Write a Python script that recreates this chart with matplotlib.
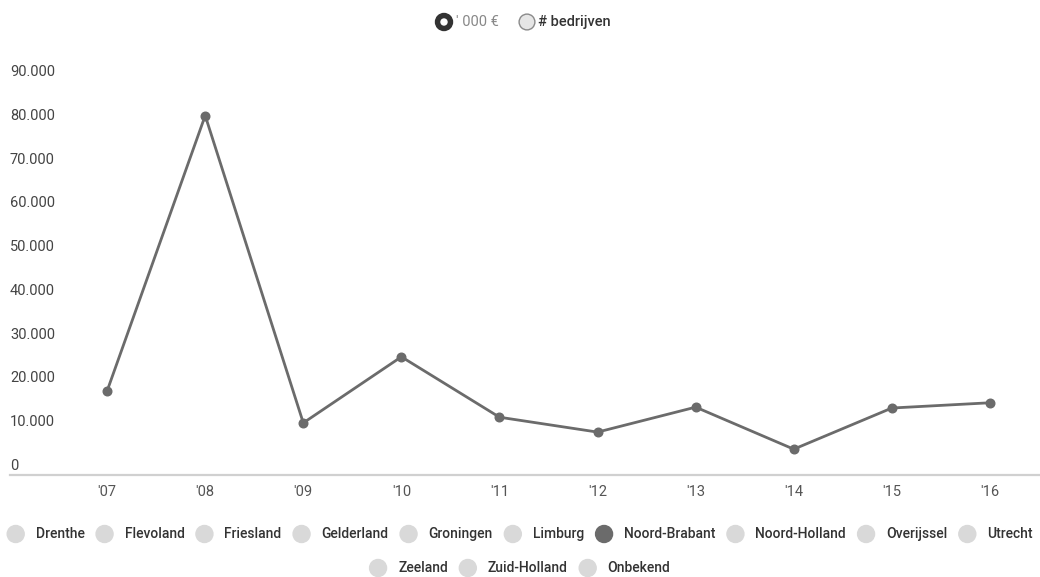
import matplotlib
matplotlib.use("Agg")
import matplotlib.pyplot as plt
from matplotlib.patches import Circle

plt.rcParams["font.family"] = ["Roboto", "DejaVu Sans"]

# Yearly amounts ('000 EUR) for Noord-Brabant
years = ["'07", "'08", "'09", "'10", "'11", "'12", "'13", "'14", "'15", "'16"]
values = [19200, 82100, 11900, 27000, 13200, 9800, 15500, 5900, 15300, 16500]
y_ticks = [0, 10000, 20000, 30000, 40000, 50000, 60000, 70000, 80000, 90000]

measure_labels = ["' 000 €", "# bedrijven"]
provinces = ["Drenthe", "Flevoland", "Friesland", "Gelderland", "Groningen",
             "Limburg", "Noord-Brabant", "Noord-Holland", "Overijssel", "Utrecht",
             "Zeeland", "Zuid-Holland", "Onbekend"]
active_province = "Noord-Brabant"
legend_rows = [10, 3]

W, H = 1040, 577
DPI = 100
fig = plt.figure(figsize=(W / DPI, H / DPI), dpi=DPI)

line_color = "#6b6b6b"
text_dark = "#3a3a3a"

# main plotting area (pixel extents converted to figure fractions)
left_px, right_px, bottom_px, top_px = 10, 1039, 475, 81
ax = fig.add_axes([left_px / W, (H - bottom_px) / H,
                   (right_px - left_px) / W, (bottom_px - top_px) / H])
x = list(range(len(years)))
ax.plot(x, values, color=line_color, lw=2.0, marker="o", ms=6.2,
        mec=line_color, mfc=line_color, zorder=3, clip_on=False)
ax.set_xlim(-0.99, 9.5)
ax.set_ylim(0, 90000)
for s in ["top", "right", "left"]:
    ax.spines[s].set_visible(False)
ax.spines["bottom"].set_color("#d0d0d0")
ax.spines["bottom"].set_linewidth(1.6)
ax.set_xticks(x)
ax.set_xticklabels(years, fontsize=10.5, color="#555555")
ax.tick_params(axis="x", length=0, pad=7)
ax.set_yticks([])


def fmt(v):
    return f"{v:,.0f}".replace(",", ".")


for v in y_ticks:
    ax.annotate(fmt(v), xy=(0, v), xycoords=("axes fraction", "data"),
                xytext=(0, 9), textcoords="offset pixels",
                ha="left", va="center", fontsize=10.5, color="#444444")

# overlay in pixel coordinates for the legends
ov = fig.add_axes([0, 0, 1, 1], zorder=5)
ov.set_xlim(0, W)
ov.set_ylim(H, 0)
ov.axis("off")
ov.patch.set_alpha(0)

fig.canvas.draw()
renderer = fig.canvas.get_renderer()


def text_width(s, **kw):
    t = ov.text(0, 0, s, **kw)
    w = t.get_window_extent(renderer).width
    t.remove()
    return w


# measure selector at the top
top_y = 22
top_kw = dict(fontsize=10.5)
r = 8.5
ov.add_patch(Circle((444, top_y), r, color="#333333", zorder=6))
ov.add_patch(Circle((444, top_y), 3.0, color="white", zorder=7))
ov.text(456, top_y, measure_labels[0], ha="left", va="center", color="#888888", **top_kw)
ov.add_patch(Circle((527, top_y), r - 0.6, facecolor="#e6e6e6", edgecolor="#8a8a8a",
                    lw=1.0, zorder=6))
ov.text(538, top_y, measure_labels[1], ha="left", va="center", color="#333333",
        fontweight="medium", **top_kw)

# province legend, centred rows
leg_kw = dict(fontsize=10.0, fontweight="medium")
circle_to_text = 20
text_to_circle = 20
row_y = [534, 568]
idx = 0
for row, n in enumerate(legend_rows):
    items = provinces[idx:idx + n]
    idx += n
    widths = [text_width(p, **leg_kw) for p in items]
    total = sum(circle_to_text + w for w in widths) + text_to_circle * (n - 1) + r
    cx = (W - total) / 2 + r
    for p, w in zip(items, widths):
        col = line_color if p == active_province else "#d9d9d9"
        ov.add_patch(Circle((cx, row_y[row]), r, color=col, zorder=6))
        ov.text(cx + circle_to_text, row_y[row], p, ha="left", va="center",
                color="#333333", **leg_kw)
        cx += circle_to_text + w + text_to_circle

fig.savefig("out.png", dpi=DPI, facecolor="white")
